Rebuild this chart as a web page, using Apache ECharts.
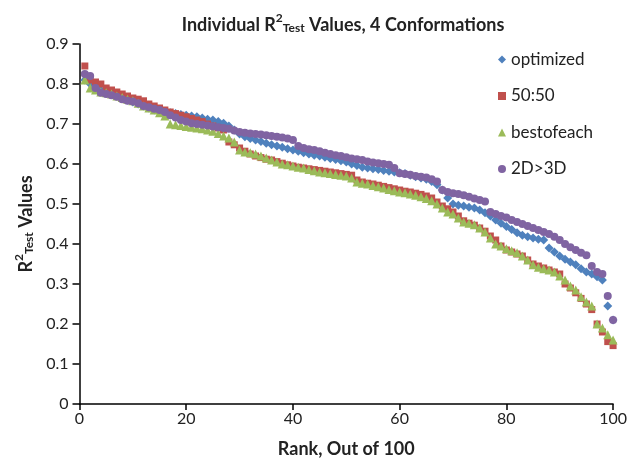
<!DOCTYPE html>
<html><head><meta charset="utf-8">
<script src="https://cdn.jsdelivr.net/npm/echarts@6/dist/echarts.min.js"></script>
<style>html,body{margin:0;padding:0;background:#fff}#c{width:630px;height:463px}</style>
</head><body><div id="c"></div>
<script>
const xTicks = [0, 20, 40, 60, 80, 100];
const yTicks = [0, 0.1, 0.2, 0.3, 0.4, 0.5, 0.6, 0.7, 0.8, 0.9];
const seriesNames = ['optimized', '50:50', 'bestofeach', '2D>3D'];

const optimized = [0.81,0.80,0.79,0.785,0.78,0.775,0.77,0.765,0.76,0.755,
0.75,0.745,0.74,0.735,0.733,0.73,0.728,0.726,0.724,0.722,
0.72,0.718,0.715,0.712,0.71,0.706,0.702,0.695,0.685,0.675,
0.668,0.664,0.66,0.656,0.652,0.648,0.645,0.642,0.638,0.635,
0.632,0.628,0.625,0.622,0.62,0.617,0.614,0.611,0.608,0.605,
0.60,0.596,0.592,0.59,0.588,0.586,0.584,0.582,0.58,0.578,
0.576,0.572,0.568,0.565,0.562,0.556,0.548,0.535,0.515,0.50,
0.497,0.495,0.492,0.49,0.485,0.478,0.47,0.46,0.452,0.444,
0.436,0.428,0.422,0.418,0.415,0.412,0.41,0.39,0.38,0.37,
0.362,0.355,0.348,0.338,0.33,0.325,0.318,0.31,0.245,0.21];

const fifty = [0.845,0.81,0.805,0.80,0.79,0.785,0.78,0.775,0.77,0.765,
0.762,0.758,0.75,0.745,0.74,0.735,0.73,0.726,0.722,0.718,
0.714,0.71,0.706,0.70,0.695,0.69,0.685,0.655,0.648,0.64,
0.632,0.625,0.62,0.616,0.612,0.61,0.606,0.602,0.598,0.595,
0.592,0.59,0.588,0.586,0.584,0.582,0.58,0.578,0.576,0.574,
0.572,0.56,0.555,0.552,0.55,0.547,0.544,0.541,0.538,0.535,
0.532,0.53,0.527,0.524,0.52,0.515,0.505,0.495,0.488,0.48,
0.47,0.458,0.452,0.447,0.44,0.432,0.42,0.41,0.395,0.385,
0.38,0.375,0.37,0.36,0.35,0.345,0.34,0.335,0.33,0.325,
0.30,0.29,0.278,0.264,0.25,0.236,0.20,0.18,0.156,0.146];

const bestofeach = [0.81,0.79,0.785,0.78,0.778,0.775,0.77,0.766,0.762,0.758,
0.752,0.745,0.74,0.735,0.728,0.72,0.70,0.698,0.696,0.694,
0.692,0.69,0.688,0.685,0.682,0.676,0.67,0.665,0.655,0.635,
0.63,0.628,0.625,0.62,0.615,0.61,0.605,0.60,0.598,0.595,
0.592,0.59,0.586,0.583,0.58,0.578,0.576,0.574,0.572,0.57,
0.565,0.555,0.552,0.55,0.546,0.543,0.54,0.536,0.533,0.53,
0.528,0.525,0.522,0.518,0.514,0.508,0.50,0.49,0.48,0.475,
0.465,0.455,0.452,0.448,0.44,0.43,0.415,0.40,0.395,0.388,
0.383,0.378,0.37,0.36,0.348,0.342,0.338,0.335,0.33,0.32,
0.31,0.295,0.285,0.268,0.255,0.245,0.20,0.19,0.173,0.16];

const twoDthreeD = [0.825,0.82,0.79,0.778,0.775,0.772,0.768,0.762,0.758,0.756,
0.752,0.745,0.742,0.738,0.735,0.73,0.722,0.716,0.71,0.706,
0.702,0.70,0.698,0.696,0.694,0.692,0.69,0.688,0.684,0.68,
0.678,0.676,0.675,0.674,0.672,0.67,0.668,0.666,0.664,0.66,
0.645,0.64,0.637,0.635,0.632,0.628,0.625,0.622,0.62,0.617,
0.614,0.612,0.61,0.606,0.604,0.602,0.60,0.598,0.59,0.577,
0.575,0.573,0.57,0.568,0.566,0.562,0.556,0.535,0.53,0.527,
0.525,0.522,0.518,0.514,0.51,0.506,0.48,0.475,0.47,0.466,
0.46,0.455,0.45,0.445,0.44,0.435,0.43,0.425,0.418,0.41,
0.40,0.392,0.385,0.378,0.372,0.345,0.33,0.325,0.27,0.21];

const colors = ['#4F81BD', '#C0504D', '#9BBB59', '#8064A2'];
const symbols = ['diamond', 'rect', 'triangle', 'circle'];
const sizes = [9, 7, 9, 8];
const allValues = [optimized, fifty, bestofeach, twoDthreeD];

const FONT = 'Lato';
const richLabel = (size) => ({
  a: {fontFamily: FONT, fontWeight: 'bold', fontSize: size, color: '#222', verticalAlign: 'bottom', lineHeight: 22},
  sup: {fontFamily: FONT, fontWeight: 'bold', fontSize: Math.round(size*0.65), color: '#222', verticalAlign: 'top', lineHeight: 22, padding: [0,0,9,0]},
  sub: {fontFamily: FONT, fontWeight: 'bold', fontSize: Math.round(size*0.65), color: '#222', verticalAlign: 'bottom', lineHeight: 22, padding: [7,0,0,0]}
});
const chart = echarts.init(document.getElementById('c'), null, {renderer: 'canvas'});
chart.setOption({
  animation: false,
  textStyle: {fontFamily: FONT},
  title: {
    text: '{a|Individual R}{sup|2}{sub|Test}{a| Values, 4 Conformations}',
    left: 338, top: 7, textAlign: 'center',
    textStyle: {rich: richLabel(18)}
  },
  legend: {
    orient: 'vertical', left: 493, top: 46, itemGap: 19.5,
    itemWidth: 8, itemHeight: 8,
    textStyle: {fontFamily: FONT, fontSize: 17, color: '#222'},
    data: seriesNames
  },
  grid: {left: 79.5, right: 13.5, top: 44, bottom: 55, containLabel: false},
  xAxis: {
    type: 'value', min: xTicks[0], max: xTicks[xTicks.length-1], interval: 20,
    name: 'Rank, Out of 100', nameLocation: 'middle', nameGap: 36,
    nameTextStyle: {fontFamily: FONT, fontWeight: 'bold', fontSize: 18, color: '#222'},
    axisLine: {lineStyle: {color: '#000', width: 1.5}},
    axisTick: {length: 6, lineStyle: {color: '#000', width: 1.5}},
    axisLabel: {fontFamily: FONT, fontSize: 16, color: '#222', margin: 7},
    splitLine: {show: false}
  },
  yAxis: {
    type: 'value', min: yTicks[0], max: yTicks[yTicks.length-1], interval: 0.1,
    name: '{a|R}{sup|2}{sub|Test}{a| Values}', nameLocation: 'middle', nameGap: 39, nameRotate: 90,
    nameTextStyle: {rich: richLabel(18)},
    axisLine: {show: true, lineStyle: {color: '#000', width: 1.5}},
    axisTick: {show: true, length: 7, lineStyle: {color: '#000', width: 1.5}},
    axisLabel: {fontFamily: FONT, fontSize: 16, color: '#222', margin: 11,
      formatter: v => (Math.round(v * 10) / 10).toString()},
    splitLine: {show: false}
  },
  series: seriesNames.map((name, si) => ({
    name, type: 'scatter',
    symbol: symbols[si], symbolSize: sizes[si],
    itemStyle: {color: colors[si], opacity: 1},
    data: allValues[si].map((v, i) => [i + 1, v])
  }))
});
</script></body></html>
